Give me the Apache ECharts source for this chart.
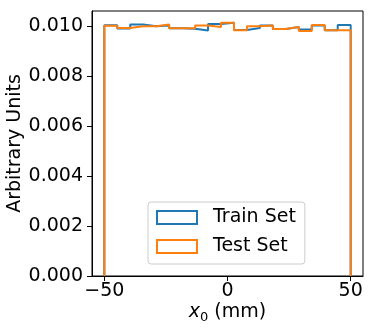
<!DOCTYPE html>
<html lang="en">
<head>
    <meta charset="UTF-8">
    <title>x0 distribution</title>
    <script src="https://cdn.jsdelivr.net/npm/echarts@6/dist/echarts.min.js"></script>
    <style>
        html, body { margin: 0; padding: 0; background: #fff; }
        #chart { width: 374px; height: 331px; }
    </style>
</head>
<body>
    <div id="chart"></div>
    <script>
        // histogram range and bin heights (density), 19 bins from -50 to 50
        const histRange = [-50, 50];
        const trainSet = [0.01003, 0.00990, 0.01006, 0.00999, 0.01002, 0.00991, 0.00989, 0.00982, 0.01008, 0.01013,
                          0.00984, 0.00992, 0.01002, 0.00988, 0.00996, 0.00986, 0.01002, 0.00983, 0.01004];
        const testSet  = [0.01001, 0.00992, 0.00999, 0.00999, 0.01006, 0.00991, 0.00991, 0.01002, 0.00996, 0.01013,
                          0.00983, 0.00999, 0.01002, 0.00988, 0.00996, 0.00980, 0.01004, 0.00983, 0.00983];
        const xTicks = [-50, 0, 50];
        const yTicks = [0, 0.002, 0.004, 0.006, 0.008, 0.010];

        const font = 'DejaVu Sans';
        const fs = 19;

        // turn bin heights into the outline of a step histogram
        function stepOutline(values) {
            const w = (histRange[1] - histRange[0]) / values.length;
            const pts = [[histRange[0], 0]];
            values.forEach((v, i) => {
                pts.push([histRange[0] + i * w, v]);
                pts.push([histRange[0] + (i + 1) * w, v]);
            });
            pts.push([histRange[1], 0]);
            return pts;
        }

        const chart = echarts.init(document.getElementById('chart'));

        const option = {
            animation: false,
            textStyle: { fontFamily: font },
            grid: {
                left: 92, right: 11, top: 11, bottom: 55,
                outerBoundsMode: 'none',
                containLabel: false,
                show: true, borderColor: '#000', borderWidth: 1
            },
            xAxis: {
                type: 'value',
                min: -55, max: 55,
                name: '{i|x}{s|0}{n| (mm)}',
                nameLocation: 'middle',
                nameGap: 25,
                nameMoveOverlap: false,
                nameTextStyle: {
                    rich: {
                        i: { fontFamily: font, fontSize: fs, fontStyle: 'italic', color: '#000', lineHeight: 23 },
                        s: { fontFamily: font, fontSize: 13, color: '#000', lineHeight: 13, verticalAlign: 'bottom' },
                        n: { fontFamily: font, fontSize: fs, color: '#000', lineHeight: 23 }
                    }
                },
                axisLine: { show: true, onZero: false, lineStyle: { color: '#000', width: 1 } },
                axisTick: { show: true, inside: false, length: 5, customValues: xTicks, lineStyle: { color: '#000' } },
                axisLabel: {
                    customValues: xTicks,
                    margin: 6,
                    fontSize: fs,
                    color: '#000',
                    fontFamily: font,
                    formatter: v => (v < 0 ? '\u2212' + Math.abs(v) : String(v))
                },
                splitLine: { show: false }
            },
            yAxis: {
                type: 'value',
                min: 0, max: 0.0106,
                name: 'Arbitrary Units',
                nameLocation: 'middle',
                nameGap: 67,
                nameMoveOverlap: false,
                nameTextStyle: { fontSize: fs, color: '#000', fontFamily: font },
                axisLine: { show: true, onZero: false, lineStyle: { color: '#000', width: 1 } },
                axisTick: { show: true, inside: false, length: 5, customValues: yTicks, lineStyle: { color: '#000' } },
                axisLabel: {
                    customValues: yTicks,
                    margin: 9,
                    fontSize: fs,
                    color: '#000',
                    fontFamily: font,
                    formatter: v => v.toFixed(3)
                },
                splitLine: { show: false }
            },
            legend: {
                orient: 'vertical',
                left: 148, top: 202,
                padding: [6, 9, 8, 8],
                itemWidth: 40,
                itemHeight: 13,
                itemGap: 10,
                icon: 'rect',
                backgroundColor: 'rgba(255,255,255,0.8)',
                borderColor: '#ccc',
                borderWidth: 1,
                borderRadius: 3,
                formatter: '{t|{name}}',
                textStyle: {
                    rich: {
                        t: { fontSize: fs, color: '#000', fontFamily: font, padding: [0, 0, 0, 11] }
                    }
                },
                data: [
                    { name: 'Train Set', itemStyle: { color: '#fff', borderColor: '#1f77b4', borderWidth: 2 } },
                    { name: 'Test Set', itemStyle: { color: '#fff', borderColor: '#ff7f0e', borderWidth: 2 } }
                ]
            },
            series: [
                {
                    name: 'Train Set',
                    type: 'line',
                    data: stepOutline(trainSet),
                    symbol: 'none',
                    color: '#1f77b4',
                    lineStyle: { color: '#1f77b4', width: 2 }
                },
                {
                    name: 'Test Set',
                    type: 'line',
                    data: stepOutline(testSet),
                    symbol: 'none',
                    color: '#ff7f0e',
                    lineStyle: { color: '#ff7f0e', width: 2 }
                }
            ]
        };

        chart.setOption(option);
    </script>
</body>
</html>
